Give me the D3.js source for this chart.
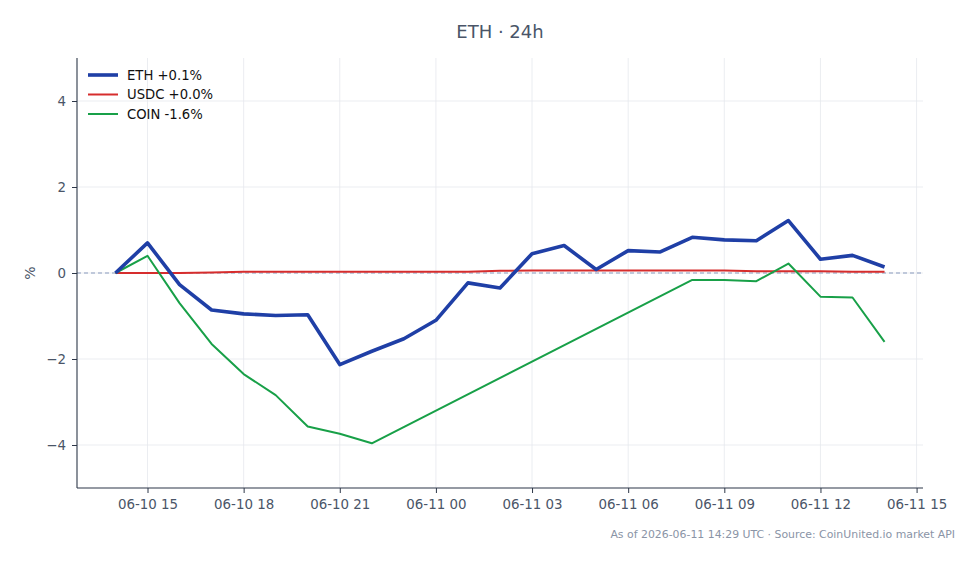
<!DOCTYPE html>
<html>
<head>
<meta charset="utf-8">
<script src="https://cdn.jsdelivr.net/npm/d3@7/dist/d3.min.js"></script>
<style>
  html, body { margin: 0; padding: 0; background: #ffffff; }
  svg { display: block; font-family: "DejaVu Sans", sans-serif; }
</style>
</head>
<body>
<svg id="chart" width="979" height="564"></svg>
<script>
// ---- data ----
const startTime = "2026-06-10T14:00:00Z";
const hours = d3.range(25); // hourly offsets from start
const ethValues = [0, 0.70, -0.27, -0.86, -0.95, -0.99, -0.97, -2.13, -1.82, -1.53, -1.10,
  -0.23, -0.35, 0.45, 0.64, 0.08, 0.52, 0.49, 0.83, 0.77, 0.75, 1.22, 0.32, 0.41, 0.14];
const usdcValues = [0, 0.0, 0.0, 0.01, 0.03, 0.03, 0.03, 0.03, 0.03, 0.03, 0.03,
  0.03, 0.05, 0.06, 0.06, 0.06, 0.06, 0.06, 0.06, 0.06, 0.04, 0.04, 0.04, 0.03, 0.03];
const coinValues = [0, 0.40, -0.70, -1.65, -2.35, -2.84, -3.57, -3.74, -3.96, null, null,
  null, null, null, null, null, null, null, -0.16, -0.16, -0.19, 0.22, -0.55, -0.57, -1.60];
const seriesNames = ["ETH", "USDC", "COIN"];
const legendLabels = ["ETH +0.1%", "USDC +0.0%", "COIN -1.6%"];
const yTicks = [-4, -2, 0, 2, 4];
const xTickHours = ["2026-06-10T15:00:00Z", "2026-06-10T18:00:00Z", "2026-06-10T21:00:00Z",
  "2026-06-11T00:00:00Z", "2026-06-11T03:00:00Z", "2026-06-11T06:00:00Z",
  "2026-06-11T09:00:00Z", "2026-06-11T12:00:00Z", "2026-06-11T15:00:00Z"];
const titleText = "ETH · 24h";
const yLabel = "%";
const footerText = "As of 2026-06-11 14:29 UTC · Source: CoinUnited.io market API";

// ---- styles ----
const colors = { ETH: "#1f3fa6", USDC: "#d62d2d", COIN: "#18a048" };
const widths = { ETH: 3.6, USDC: 2, COIN: 2 };

const svg = d3.select("#chart");
const margin = { left: 77, right: 56, top: 58, bottom: 76 };
const W = 979, H = 564;

const t0 = new Date(startTime);
const times = hours.map(h => new Date(t0.getTime() + h * 3600e3));
const span = times[times.length - 1] - times[0];
const x = d3.scaleUtc()
  .domain([new Date(times[0].getTime() - span * 0.05), new Date(times[times.length - 1].getTime() + span * 0.05)])
  .range([margin.left, W - margin.right]);
const y = d3.scaleLinear().domain([-5, 5]).range([H - margin.bottom, margin.top]);

const axisColor = "#2d3748";
const textColor = "#4a5568";
const gridColor = "#e6e8ee";

// grid
const xTicks = xTickHours.map(s => new Date(s));
svg.append("g").selectAll("line").data(xTicks).join("line")
  .attr("x1", d => x(d)).attr("x2", d => x(d))
  .attr("y1", margin.top).attr("y2", H - margin.bottom)
  .attr("stroke", gridColor).attr("stroke-width", 0.8);
svg.append("g").selectAll("line").data(yTicks).join("line")
  .attr("x1", margin.left).attr("x2", W - margin.right)
  .attr("y1", d => y(d)).attr("y2", d => y(d))
  .attr("stroke", gridColor).attr("stroke-width", 0.8);

// zero line
svg.append("line")
  .attr("x1", margin.left).attr("x2", W - margin.right)
  .attr("y1", y(0)).attr("y2", y(0))
  .attr("stroke", "#8a9bbd").attr("stroke-width", 1)
  .attr("stroke-dasharray", "4,3");

// axes
const fmt = d3.utcFormat("%m-%d %H");
const xAxis = svg.append("g")
  .attr("transform", `translate(0,${H - margin.bottom})`)
  .call(d3.axisBottom(x).tickValues(xTicks).tickFormat(fmt).tickSizeOuter(0).tickSize(5).tickPadding(6));
const yAxis = svg.append("g")
  .attr("transform", `translate(${margin.left},0)`)
  .call(d3.axisLeft(y).tickValues(yTicks).tickFormat(d => d < 0 ? "\u2212" + Math.abs(d) : d).tickSizeOuter(0).tickSize(5).tickPadding(6));
[xAxis, yAxis].forEach(a => {
  a.select(".domain").remove();
  a.selectAll(".tick line").attr("stroke", axisColor);
  a.selectAll(".tick text").attr("fill", textColor).style("font-size", "13.4px").style("font-family", "DejaVu Sans, sans-serif");
});
// spines
svg.append("line").attr("x1", margin.left).attr("x2", margin.left)
  .attr("y1", margin.top).attr("y2", H - margin.bottom)
  .attr("stroke", axisColor).attr("stroke-width", 1.1);
svg.append("line").attr("x1", margin.left).attr("x2", W - margin.right)
  .attr("y1", H - margin.bottom).attr("y2", H - margin.bottom)
  .attr("stroke", axisColor).attr("stroke-width", 1.1);

// lines
const allSeries = [
  { name: "ETH", values: ethValues },
  { name: "USDC", values: usdcValues },
  { name: "COIN", values: coinValues }
];
const line = d3.line().x(d => x(d.t)).y(d => y(d.v));
const drawOrder = ["USDC", "COIN", "ETH"];
drawOrder.forEach(name => {
  const s = allSeries.find(s => s.name === name);
  const pts = s.values.map((v, i) => ({ t: times[i], v })).filter(d => d.v !== null);
  svg.append("path").datum(pts)
    .attr("d", line)
    .attr("fill", "none")
    .attr("stroke", colors[name])
    .attr("stroke-width", widths[name])
    .attr("stroke-linejoin", "round");
});

// legend
const lg = svg.append("g");
seriesNames.forEach((name, i) => {
  const yy = 75 + i * 19.5;
  lg.append("line").attr("x1", 88).attr("x2", 118).attr("y1", yy).attr("y2", yy)
    .attr("stroke", colors[name]).attr("stroke-width", widths[name]);
  lg.append("text").attr("x", 127).attr("y", yy).attr("dy", "0.35em")
    .attr("fill", "#111").style("font-size", "13.2px").text(legendLabels[i]);
});

// title
svg.append("text").attr("x", 500).attr("y", 38).attr("text-anchor", "middle")
  .attr("fill", textColor).style("font-size", "18px").text(titleText);

// y label
svg.append("text").attr("transform", `translate(35,${y(0)}) rotate(-90)`)
  .attr("text-anchor", "middle").attr("fill", textColor).style("font-size", "14px").text(yLabel);

// footer
svg.append("text").attr("x", 955).attr("y", 538).attr("text-anchor", "end")
  .attr("fill", "#8a94a6").style("font-size", "10.9px").text(footerText);
</script>
</body>
</html>
